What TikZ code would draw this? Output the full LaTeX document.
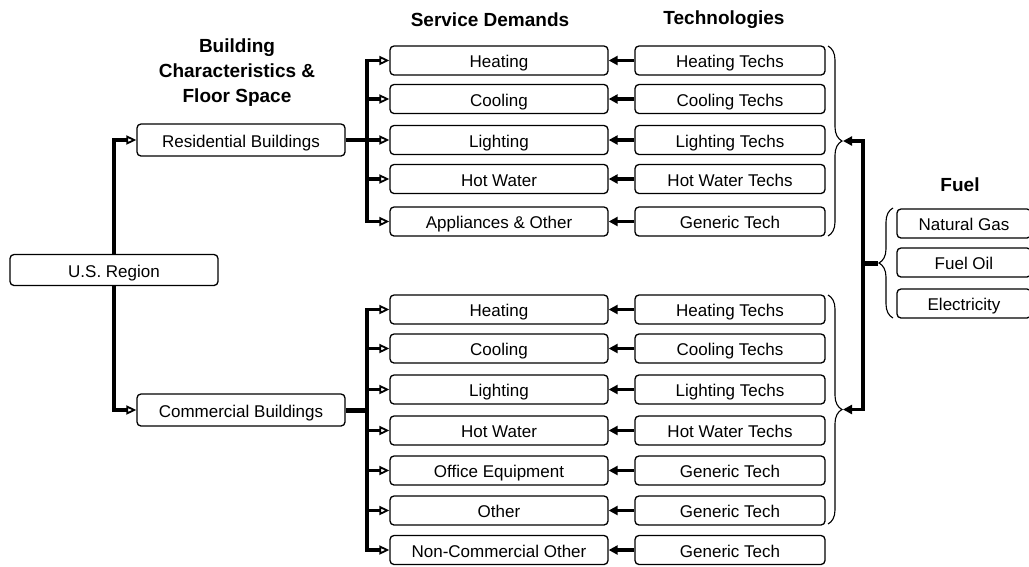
\documentclass[tikz,border=0pt]{standalone}
\usepackage{fontspec}
\setmainfont{Liberation Sans}
\usetikzlibrary{arrows.meta,decorations.pathreplacing}

\begin{document}
\begin{tikzpicture}[x=1pt,y=-1pt,
        font=\fontsize{17}{19}\selectfont,
        box/.style={draw, line width=1.3pt, rounded corners=4pt, inner sep=0pt, minimum height=29pt,
            text height=15pt, text depth=1pt},
        demand/.style={box, minimum width=218pt},
        tech/.style={box, minimum width=190pt},
        bldg/.style={box, minimum width=208pt, minimum height=32pt},
        fuel/.style={box, minimum width=134pt, minimum height=29pt},
        head/.style={font=\bfseries\fontsize{19}{25}\selectfont, align=center},
        feed/.style={line width=3.2pt, -{Triangle[open, length=10pt, width=9pt, line width=1.8pt]}},
        back/.style={line width=3.2pt, -{Triangle[length=9pt, width=9pt]}},
        curly/.style={decorate, decoration={brace, amplitude=14pt}, line width=1.1pt}]
        \useasboundingbox (0,0) rectangle (1029,566);

        % headings
        \node[head] (hBldg) at (237,73) {Building\\Characteristics \&\\Floor Space};
        \node[head] (hDem) at (490,20) {Service Demands};
        \node[head] (hTech) at (724,20) {Technologies};
        \node[head] (hFuel) at (960,185) {Fuel};

        % region and building types
        \node[bldg, minimum height=31pt] (region) at (114,270) {U.S. Region};
        \node[bldg] (res) at (241,140) {Residential Buildings};
        \node[bldg] (com) at (241,410) {Commercial Buildings};
        \draw[feed] (region.north) |- (res.west);
        \draw[feed] (region.south) |- (com.west);

        % residential demands and techs
        \node[demand] (rHeat) at (499,60.5) {Heating};
        \node[demand] (rCool) at (499,99) {Cooling};
        \node[demand] (rLight) at (499,140) {Lighting};
        \node[demand] (rWater) at (499,179) {Hot Water};
        \node[demand] (rAppl) at (499,221.5) {Appliances \& Other};
        \node[tech] (rHeatT) at (730,60.5) {Heating Techs};
        \node[tech] (rCoolT) at (730,99) {Cooling Techs};
        \node[tech] (rLightT) at (730,140) {Lighting Techs};
        \node[tech] (rWaterT) at (730,179) {Hot Water Techs};
        \node[tech] (rApplT) at (730,221.5) {Generic Tech};

        \coordinate (resBus) at (367,140);
        \draw[line width=3.2pt] (res.east) -- (resBus);
        \draw[feed] (resBus) |- (rHeat.west);
        \draw[feed] (resBus) -- (rLight.west);
        \draw[feed] (resBus) |- (rAppl.west);
        \draw[feed] (367,99) -- (rCool.west);
        \draw[feed] (367,179) -- (rWater.west);

        \draw[back] (rHeatT) -- (rHeat);
        \draw[back] (rCoolT) -- (rCool);
        \draw[back] (rLightT) -- (rLight);
        \draw[back] (rWaterT) -- (rWater);
        \draw[back] (rApplT) -- (rAppl);

        % commercial demands and techs
        \node[demand] (cHeat) at (499,309.5) {Heating};
        \node[demand] (cCool) at (499,348.5) {Cooling};
        \node[demand] (cLight) at (499,389.5) {Lighting};
        \node[demand] (cWater) at (499,430.5) {Hot Water};
        \node[demand] (cOffice) at (499,470.5) {Office Equipment};
        \node[demand] (cOther) at (499,510.5) {Other};
        \node[demand] (cNonCom) at (499,550) {Non-Commercial Other};
        \node[tech] (cHeatT) at (730,309.5) {Heating Techs};
        \node[tech] (cCoolT) at (730,348.5) {Cooling Techs};
        \node[tech] (cLightT) at (730,389.5) {Lighting Techs};
        \node[tech] (cWaterT) at (730,430.5) {Hot Water Techs};
        \node[tech] (cOfficeT) at (730,470.5) {Generic Tech};
        \node[tech] (cOtherT) at (730,510.5) {Generic Tech};
        \node[tech] (cNonComT) at (730,550) {Generic Tech};

        \coordinate (comBus) at (367,410);
        \draw[line width=5pt] (com.east) -- (comBus);
        \draw[feed] (comBus) |- (cHeat.west);
        \draw[feed] (comBus) |- (cNonCom.west);
        \draw[feed] (367,348.5) -- (cCool.west);
        \draw[feed] (367,389.5) -- (cLight.west);
        \draw[feed] (367,430.5) -- (cWater.west);
        \draw[feed] (367,470.5) -- (cOffice.west);
        \draw[feed] (367,510.5) -- (cOther.west);

        \draw[back] (cHeatT) -- (cHeat);
        \draw[back] (cCoolT) -- (cCool);
        \draw[back] (cLightT) -- (cLight);
        \draw[back] (cWaterT) -- (cWater);
        \draw[back] (cOfficeT) -- (cOffice);
        \draw[back] (cOtherT) -- (cOther);
        \draw[back] (cNonComT) -- (cNonCom);

        % fuels
        \node[fuel] (gas) at (964,223.5) {Natural Gas};
        \node[fuel] (oil) at (964,262.5) {Fuel Oil};
        \node[fuel] (elec) at (964,303.5) {Electricity};

        % braces and fuel links
        \draw[curly] (828,46) -- (828,236) coordinate[midway, xshift=15pt] (resTip);
        \draw[curly] (828,295) -- (828,524) coordinate[midway, xshift=15pt] (comTip);
        \draw[curly] (893,318) -- (893,208) coordinate[midway, xshift=-15pt] (fuelTip);
        \coordinate (fuelBus) at (863,263);
        \draw[line width=5pt] (fuelTip) -- (fuelBus);
        \draw[back] (fuelBus) |- (resTip);
        \draw[back] (fuelBus) |- (comTip);
\end{tikzpicture}
\end{document}
